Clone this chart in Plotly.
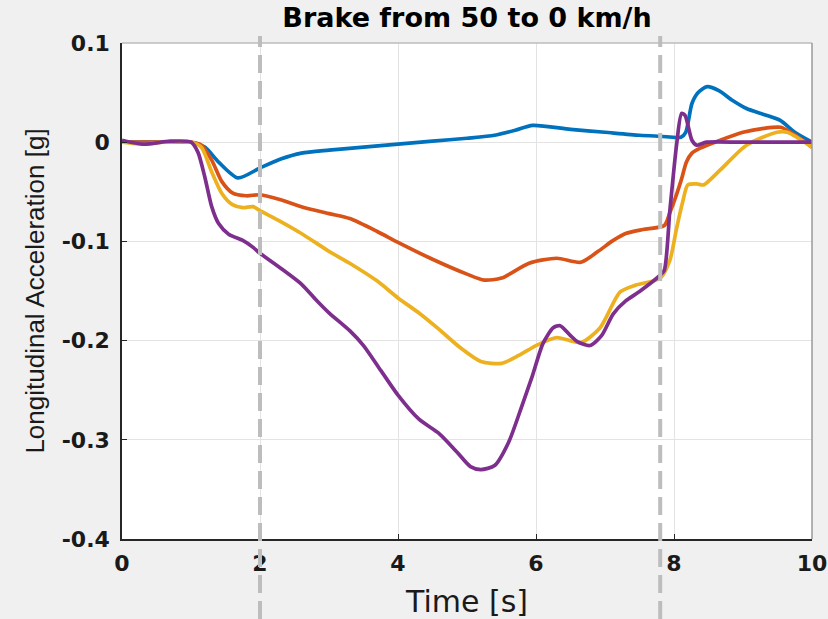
import plotly.graph_objects as go

# ---- data ----
t_blue = [0, 0.5, 1.0, 1.2, 1.4, 1.68, 2.0, 2.3, 2.6, 3.0, 3.5, 4.0, 4.5, 5.0, 5.4, 5.7, 5.95,
          6.5, 7.0, 7.5, 7.8, 8.1, 8.17, 8.26, 8.35, 8.48, 8.65, 8.85, 9.05, 9.3, 9.54, 9.75, 10]
v_blue = [0, 0, 0, -0.005, -0.02, -0.036, -0.026, -0.017, -0.011, -0.008, -0.005, -0.002, 0.001,
          0.004, 0.007, 0.012, 0.017, 0.013, 0.010, 0.007, 0.006, 0.005, 0.010, 0.039, 0.050,
          0.056, 0.052, 0.042, 0.034, 0.028, 0.022, 0.010, 0]

t_orange = [0, 0.5, 1.0, 1.15, 1.3, 1.45, 1.6, 1.8, 2.0, 2.3, 2.6, 3.0, 3.3, 3.7, 4.0, 4.5, 5.0,
            5.25, 5.5, 5.9, 6.3, 6.65, 6.9, 7.12, 7.3, 7.55, 7.86, 7.94, 8.04, 8.11, 8.18, 8.26,
            8.38, 8.67, 9.0, 9.3, 9.55, 9.8, 10]
v_orange = [0, 0, 0, -0.003, -0.018, -0.040, -0.051, -0.054, -0.053, -0.058, -0.065, -0.072,
            -0.077, -0.090, -0.101, -0.118, -0.133, -0.139, -0.137, -0.122, -0.117, -0.121,
            -0.110, -0.099, -0.092, -0.088, -0.084, -0.071, -0.052, -0.037, -0.020, -0.011,
            -0.006, 0.002, 0.010, 0.014, 0.015, 0.005, -0.005]

t_yellow = [0, 0.3, 0.6, 1.0, 1.15, 1.3, 1.45, 1.6, 1.75, 1.9, 2.0, 2.3, 2.6, 3.0, 3.3, 3.7, 4.0,
            4.3, 4.6, 4.9, 5.2, 5.5, 5.75, 6.0, 6.3, 6.65, 6.93, 7.22, 7.45, 7.8, 7.94, 8.04,
            8.13, 8.2, 8.33, 8.43, 8.67, 9.05, 9.49, 9.64, 10]
v_yellow = [0, -0.002, 0, 0, -0.005, -0.030, -0.052, -0.063, -0.066, -0.065, -0.069, -0.080,
            -0.092, -0.110, -0.122, -0.140, -0.157, -0.172, -0.189, -0.207, -0.221, -0.223,
            -0.215, -0.205, -0.197, -0.202, -0.187, -0.151, -0.144, -0.137, -0.119, -0.086,
            -0.059, -0.043, -0.042, -0.043, -0.028, -0.003, 0.010, 0.010, -0.005]

t_purple = [0, 0.3, 0.7, 1.0, 1.1, 1.2, 1.3, 1.4, 1.55, 1.75, 1.9, 2.0, 2.3, 2.6, 2.8, 3.0, 3.3,
            3.5, 3.75, 4.0, 4.3, 4.6, 4.85, 5.05, 5.2, 5.4, 5.6, 5.8, 5.95, 6.1, 6.25, 6.35, 6.5,
            6.6, 6.78, 6.95, 7.12, 7.3, 7.51, 7.8, 7.86, 7.94, 8.04, 8.11, 8.16, 8.26, 8.33,
            8.47, 9.0, 10]
v_purple = [0.002, -0.002, 0.001, 0, -0.010, -0.035, -0.065, -0.082, -0.093, -0.099, -0.106,
            -0.112, -0.127, -0.143, -0.158, -0.172, -0.190, -0.205, -0.230, -0.255, -0.279,
            -0.294, -0.312, -0.327, -0.330, -0.326, -0.303, -0.265, -0.235, -0.203, -0.187,
            -0.185, -0.195, -0.201, -0.205, -0.195, -0.173, -0.160, -0.150, -0.134, -0.129,
            -0.069, -0.001, 0.029, 0.027, 0.002, -0.003, 0, 0, 0]

event_times = [2.0, 7.8]
x_ticks = [0, 2, 4, 6, 8, 10]
y_ticks = [0.1, 0, -0.1, -0.2, -0.3, -0.4]
y_tick_text = ["0.1", "0", "-0.1", "-0.2", "-0.3", "-0.4"]

series = [
    (t_blue, v_blue, "#0072BD"),
    (t_orange, v_orange, "#D95319"),
    (t_yellow, v_yellow, "#EDB120"),
    (t_purple, v_purple, "#7E2F8E"),
]

fig = go.Figure()
for t, v, c in series:
    fig.add_trace(go.Scatter(x=t, y=v, mode="lines",
                             line=dict(color=c, width=3.7, shape="spline", smoothing=0.7),
                             showlegend=False, hoverinfo="skip"))

W, H = 828, 619
ML, MR, MT, MB = 122, 16, 43, 80
plot_h = H - MT - MB
for et in event_times:
    fig.add_shape(type="line", xref="x", yref="paper", x0=et, x1=et,
                  y0=-MB / plot_h, y1=1 + 7 / plot_h,
                  line=dict(color="#bdbdbd", width=4, dash="18px,8px"), layer="above")

# top/right box edges (lighter)
fig.add_shape(type="line", xref="paper", yref="paper", x0=0, x1=1, y0=1, y1=1,
              line=dict(color="#bcbcbc", width=1.5), layer="above")
fig.add_shape(type="line", xref="paper", yref="paper", x0=1, x1=1, y0=0, y1=1,
              line=dict(color="#9a9a9a", width=1.5), layer="above")

tick_font = dict(family="DejaVu Sans", size=22, color="#1a1a1a", weight="bold")

fig.update_layout(
    width=W, height=H,
    margin=dict(l=ML, r=MR, t=MT, b=MB, autoexpand=False),
    paper_bgcolor="#f0f0f0", plot_bgcolor="white",
    title=dict(text="Brake from 50 to 0 km/h", x=0.5, xref="paper", xanchor="center",
               y=1 - 18 / H, yanchor="middle",
               font=dict(family="DejaVu Sans", size=27, color="black", weight="bold")),
    xaxis=dict(range=[0, 10], tickvals=x_ticks, ticktext=[str(v) for v in x_ticks],
               automargin=False,
               showgrid=True, gridcolor="#e3e3e3", gridwidth=1, zeroline=False,
               showline=True, linecolor="#262626", linewidth=1.5,
               ticks="inside", ticklen=5, tickcolor="#262626",
               tickfont=tick_font, ticklabelstandoff=4,
               title=dict(text="Time [s]", standoff=16,
                          font=dict(family="DejaVu Sans", size=30, color="#1a1a1a"))),
    yaxis=dict(range=[-0.4, 0.1], tickvals=y_ticks, ticktext=y_tick_text,
               automargin=False,
               showgrid=True, gridcolor="#e3e3e3", gridwidth=1, zeroline=False,
               showline=True, linecolor="#262626", linewidth=1.5,
               ticks="inside", ticklen=5, tickcolor="#262626",
               tickfont=tick_font, ticklabelstandoff=6,
               title=dict(text="Longitudinal Acceleration [g]", standoff=10,
                          font=dict(family="Liberation Sans", size=26, color="#1a1a1a"))),
)

fig.write_html("out.html", config={"displayModeBar": False},
               post_script="document.body.style.margin='0';document.body.style.overflow='hidden';")
